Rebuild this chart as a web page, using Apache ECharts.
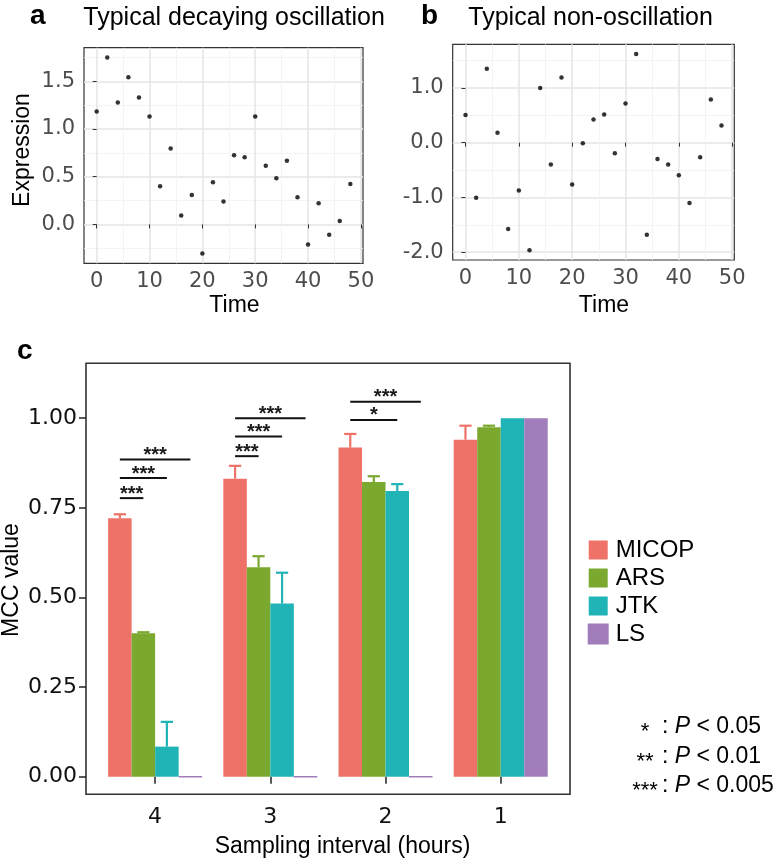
<!DOCTYPE html>
<html><head><meta charset="utf-8">
<script src="https://cdn.jsdelivr.net/npm/echarts@6/dist/echarts.min.js"></script>
<style>html,body{margin:0;padding:0;background:#fff}#c{width:783px;height:861px}</style>
</head><body><div id="c"></div>
<script>
// ---- Panel a / b data ----
const timeA = [0,2,4,6,8,10,12,14,16,18,20,22,24,26,28,30,32,34,36,38,40,42,44,46,48];
const exprA = [1.184,1.75,1.278,1.542,1.330,1.132,0.399,0.795,0.094,0.309,-0.306,0.441,0.240,0.726,0.705,1.132,0.615,0.483,0.667,0.285,-0.212,0.222,-0.108,0.035,0.424];
const timeB = [0,2,4,6,8,10,12,14,16,18,20,22,24,26,28,30,32,34,36,38,40,42,44,46,48];
const exprB = [0.504,-1.005,1.352,0.182,-1.575,-0.873,-1.964,1.0,-0.4,1.189,-0.764,-0.012,0.425,0.516,-0.193,0.716,1.618,-1.684,-0.296,-0.4,-0.594,-1.102,-0.266,0.789,0.316];
const timeTicks = [0,10,20,30,40,50];
const timeMinor = [5,15,25,35,45];
const yTicksA = [0,0.5,1.0,1.5];
const yMinorA = [-0.25,0.25,0.75,1.25,1.75];
const yTicksB = [-2,-1,0,1];
const yMinorB = [-1.5,-0.5,0.5,1.5];

// ---- Panel c data ----
const intervals = ['4','3','2','1'];
const methods = ['MICOP','ARS','JTK','LS'];
const micop = [0.721,0.831,0.918,0.940];
const ars   = [0.400,0.584,0.822,0.975];
const jtk   = [0.084,0.483,0.797,1.000];
const ls    = [0,0,0,1.000];
const micopUp = [0.732,0.867,0.956,0.979];
const arsUp   = [0.403,0.615,0.838,0.979];
const jtkUp   = [0.153,0.569,0.816,1.000];
const lsUp    = [0,0,0,1.000];
const mccTicks = [0,0.25,0.5,0.75,1.0];
// significance brackets: from MICOP to method index, at height
const sigGroup = [0,0,0,1,1,1,2,2];
const sigTo    = [1,2,3,1,2,3,2,3];
const sigY     = [0.777,0.833,0.885,0.894,0.949,1.0,0.995,1.046];
const sigLabel = ['***','***','***','***','***','***','*','***'];
const pStars = ['*','**','***'];
const pText  = ['0.05','0.01','0.005'];

const colors = ['#EE7268','#7BA82F','#21B4B6','#A27DBB'];
const values = [micop, ars, jtk, ls];
const uppers = [micopUp, arsUp, jtkUp, lsUp];
const BAR_FRAC = 0.204;

const TF = 'DejaVu Sans';
const LF = 'Liberation Sans';

function gridAxes(gi, xmin, xmax, ymin, ymax, xt, xm, yt, ym) {
  const majorLine = {show:true, lineStyle:{color:'#E4E4E4', width:1.5}};
  const minorLine = {show:true, lineStyle:{color:'#F1F1F1', width:0.8}};
  const xs = [
    {type:'value', gridIndex:gi, min:xmin, max:xmax, axisLine:{show:false},
     axisTick:{show:true, customValues:xt, length:4, lineStyle:{color:'#333'}},
     axisLabel:{customValues:xt, margin:8, color:'#4D4D4D', fontFamily:TF, fontSize:21},
     splitLine:majorLine},
    {type:'value', gridIndex:gi, min:xmin, max:xmax, axisLine:{show:false},
     axisTick:{show:true, customValues:xm, length:0, lineStyle:{opacity:0}},
     axisLabel:{show:false, customValues:xm}, splitLine:minorLine}
  ];
  const ys = [
    {type:'value', gridIndex:gi, min:ymin, max:ymax, axisLine:{show:false},
     axisTick:{show:true, customValues:yt, length:4, lineStyle:{color:'#333'}},
     axisLabel:{customValues:yt, margin:9, color:'#4D4D4D', fontFamily:TF, fontSize:21,
       formatter:v=>v.toFixed(1)},
     splitLine:majorLine},
    {type:'value', gridIndex:gi, min:ymin, max:ymax, axisLine:{show:false},
     axisTick:{show:true, customValues:ym, length:0, lineStyle:{opacity:0}},
     axisLabel:{show:false, customValues:ym}, splitLine:minorLine}
  ];
  return {xs, ys};
}

const A = gridAxes(0, -2.4, 50.4, -0.408, 1.853, timeTicks, timeMinor, yTicksA, yMinorA);
const B = gridAxes(1, -2.4, 50.4, -2.143, 1.797, timeTicks, timeMinor, yTicksB, yMinorB);

const cMin = -0.049, cMax = 1.153;

const xAxis = [...A.xs, ...B.xs,
  {type:'value', gridIndex:2, min:0, max:1, show:false},
  {type:'category', gridIndex:3, data:intervals, axisLine:{show:false},
   axisTick:{show:true, alignWithLabel:true, length:7, lineStyle:{color:'#222', width:1.5}},
   axisLabel:{margin:12, color:'#111', fontFamily:TF, fontSize:22}, splitLine:{show:false}}
];
const yAxis = [...A.ys, ...B.ys,
  {type:'value', gridIndex:2, min:cMin, max:cMax, axisLine:{show:false},
   axisTick:{show:true, customValues:mccTicks, length:7, lineStyle:{color:'#222', width:1.5}},
   axisLabel:{customValues:mccTicks, margin:9, color:'#111', fontFamily:TF, fontSize:22,
     formatter:v=>v.toFixed(2)}, splitLine:{show:false}},
  {type:'value', gridIndex:3, min:cMin, max:cMax, show:false, splitLine:{show:false}}
];

const bandW = 115.2;
const grid = [
  {left:84, top:47.7, width:279, height:215.6, show:true, borderColor:'#333', borderWidth:1.2, backgroundColor:'transparent'},
  {left:452.7, top:44.3, width:281.6, height:215.7, show:true, borderColor:'#333', borderWidth:1.2, backgroundColor:'transparent'},
  {left:86, top:363.3, width:484, height:431, show:true, borderColor:'#333', borderWidth:1.6, backgroundColor:'transparent'},
  {left:86 + 0.1*bandW, top:363.3, width:4*bandW, height:431}
];

const series = [
  {type:'scatter', xAxisIndex:0, yAxisIndex:0, symbolSize:4.5, itemStyle:{color:'#000'}, z:5,
   data: timeA.map((t,i)=>[t, exprA[i]])},
  {type:'scatter', xAxisIndex:2, yAxisIndex:2, symbolSize:4.5, itemStyle:{color:'#000'}, z:5,
   data: timeB.map((t,i)=>[t, exprB[i]])}
];
methods.forEach((m, s) => {
  series.push({type:'bar', name:m, xAxisIndex:5, yAxisIndex:5, data:values[s],
    barWidth:(BAR_FRAC*100)+'%', barGap:'0%',
    itemStyle:{color:colors[s], borderColor:colors[s], borderWidth: s===3 ? 1.6 : 0}, z:3});
});
const errData = [];
methods.forEach((m, s) => values[s].forEach((v, i) => errData.push([i, s, v, uppers[s][i]])));
series.push({type:'custom', xAxisIndex:5, yAxisIndex:5, z:4, data:errData,
  encode:{x:0, y:2},
  renderItem:(params, api) => {
    const cat = api.value(0), s = api.value(1), v = api.value(2), u = api.value(3);
    if (u - v < 1e-9) return {type:'group', children:[]};
    const band = api.size([1,0])[0];
    const bw = band*BAR_FRAC;
    const p0 = api.coord([cat, v]), p1 = api.coord([cat, u]);
    const x = p0[0] + (s-1.5)*bw;
    const cw = bw*0.52;
    const st = {stroke:colors[s], lineWidth:2.2};
    return {type:'group', children:[
      {type:'line', shape:{x1:x, y1:p0[1], x2:x, y2:p1[1]}, style:st},
      {type:'line', shape:{x1:x-cw/2, y1:p1[1], x2:x+cw/2, y2:p1[1]}, style:st}
    ]};
  }});
series.push({type:'custom', xAxisIndex:5, yAxisIndex:5, z:6,
  data: sigGroup.map((g,i)=>[g, sigTo[i], sigY[i]]),
  encode:{x:0, y:2},
  renderItem:(params, api) => {
    const g = api.value(0), to = api.value(1), y = api.value(2);
    const band = api.size([1,0])[0];
    const bw = band*BAR_FRAC;
    const c = api.coord([g, y]);
    const x1 = c[0] - 1.5*bw, x2 = c[0] + (to-1.5)*bw;
    return {type:'group', children:[
      {type:'line', shape:{x1:x1, y1:c[1], x2:x2, y2:c[1]}, style:{stroke:'#111', lineWidth:2}},
      {type:'text', x:(x1+x2)/2, y:c[1]+6, style:{text:sigLabel[params.dataIndex], fill:'#1a1a1a',
        font:'bold 20px "Liberation Sans"', align:'center', verticalAlign:'bottom'}}
    ]};
  }});

const graphic = [
  {type:'text', left:30, top:2, style:{text:'a', font:'bold 28px "Liberation Sans"', fill:'#000'}},
  {type:'text', x:83.3, y:18, style:{text:'Typical decaying oscillation', font:'25px "Liberation Sans"', fill:'#000', verticalAlign:'middle'}},
  {type:'text', left:421, top:2, style:{text:'b', font:'bold 28px "Liberation Sans"', fill:'#000'}},
  {type:'text', x:468.3, y:18, style:{text:'Typical non-oscillation', font:'25px "Liberation Sans"', fill:'#000', verticalAlign:'middle'}},
  {type:'text', left:17, top:337, style:{text:'c', font:'bold 28px "Liberation Sans"', fill:'#000'}},
  {type:'text', x:234.5, y:306, style:{text:'Time', font:'23px "Liberation Sans"', fill:'#000', align:'center', verticalAlign:'middle'}},
  {type:'text', x:604, y:306, style:{text:'Time', font:'23px "Liberation Sans"', fill:'#000', align:'center', verticalAlign:'middle'}},
  {type:'text', x:23, y:150, rotation:Math.PI/2, style:{text:'Expression', font:'23px "Liberation Sans"', fill:'#000', align:'center', verticalAlign:'middle'}},
  {type:'text', x:12, y:580, rotation:Math.PI/2, style:{text:'MCC value', font:'23px "Liberation Sans"', fill:'#000', align:'center', verticalAlign:'middle'}},
  {type:'text', x:342.5, y:847, style:{text:'Sampling interval (hours)', font:'23px "Liberation Sans"', fill:'#000', align:'center', verticalAlign:'middle'}}
];
const pY = [726.7, 756.7, 785.8];
pStars.forEach((st, i) => {
  graphic.push({type:'text', x:645, y:pY[i]+5, style:{text:st, font:'22px "Liberation Sans"', fill:'#000', align:'center', verticalAlign:'middle'}});
  graphic.push({type:'text', x:662, y:pY[i], style:{
    text:'{n|: }{i|P}{n| < ' + pText[i] + '}', verticalAlign:'middle', align:'left',
    rich:{n:{fontFamily:LF, fontSize:23, color:'#000'}, i:{fontFamily:LF, fontSize:23, fontStyle:'italic', color:'#000'}}}});
});

const chart = echarts.init(document.getElementById('c'), null, {renderer:'canvas'});
chart.setOption({
  animation:false,
  backgroundColor:'#fff',
  grid, xAxis, yAxis, series, graphic,
  legend:{data:methods, orient:'vertical', left:582.7, top:533, itemWidth:19, itemHeight:19, itemGap:4,
    icon:'rect', selectedMode:false,
    textStyle:{fontFamily:LF, fontSize:24, color:'#000', padding:[0,0,0,3]}}
});
</script></body></html>
